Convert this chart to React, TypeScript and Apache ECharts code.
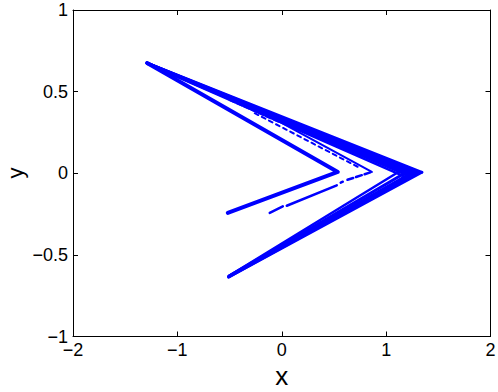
import React, { useEffect, useRef } from "react";
import * as echarts from "echarts";

// Axis ticks
const xTicks = [-2, -1, 0, 1, 2];
const yTicks = [-1, -0.5, 0, 0.5, 1];

// Outer chevron: upper band (nearly parallel strands from the top-left tip)
const upperBand1 = [[-1.29, 0.675], [1.342, 0.006]];
const upperBand2 = [[-1.29, 0.675], [1.313, 0.0]];
const upperBand3 = [[-1.29, 0.675], [1.284, -0.006]];
const upperBand4 = [[-1.29, 0.675], [1.256, -0.012]];
const upperBand5 = [[-1.285, 0.672], [1.227, -0.018]];
const upperBand6 = [[-1.28, 0.668], [1.189, -0.024]];

// Outer chevron: lower band (strands from the bottom-left tip)
const lowerBand1 = [[-0.508, -0.635], [1.342, 0.006]];
const lowerBand2 = [[-0.508, -0.635], [1.313, 0.01]];
const lowerBand3 = [[-0.508, -0.632], [1.284, 0.016]];
const lowerBand4 = [[-0.505, -0.63], [1.246, 0.026]];
const lowerBand5 = [[-0.5, -0.626], [1.2, 0.04]];

// First inner chevron
const innerChevron = [[-1.29, 0.675], [0.537, 0.008], [-0.517, -0.243]];

// Second inner chevron (sparse)
const secondUpperSparse = [[-0.498, 0.449], [-0.019, 0.314]];
const secondUpper = [[-0.019, 0.314], [0.863, 0.008]];
const secondLower1 = [[-0.115, -0.243], [0.01, -0.203]];
const secondLower2 = [[0.048, -0.199], [0.527, -0.074]];
const secondLower3 = [[0.565, -0.058], [0.585, -0.052]];
const secondLower4 = [[0.63, -0.04], [0.863, 0.008]];

// Extra sparse strand between chevrons
const extraStrand = [[-0.259, 0.368], [0.747, 0.033]];

const BLUE = "#0000ff";
const FONT = "'Liberation Sans', Arial, Helvetica, sans-serif";

const fmt = (v: number) => String(v).replace("-", "\u2212");

type Seg = { data: number[][]; width: number; type?: any };

const segments: Seg[] = [
  { data: upperBand1, width: 3 },
  { data: upperBand2, width: 3 },
  { data: upperBand3, width: 3 },
  { data: upperBand4, width: 3 },
  { data: upperBand5, width: 3 },
  { data: upperBand6, width: 2.5 },
  { data: lowerBand1, width: 3 },
  { data: lowerBand2, width: 3 },
  { data: lowerBand3, width: 3 },
  { data: lowerBand4, width: 3 },
  { data: lowerBand5, width: 2.5 },
  { data: innerChevron, width: 4 },
  { data: secondUpperSparse, width: 2.5, type: [5, 3] },
  { data: secondUpper, width: 2 },
  { data: secondLower1, width: 2.5 },
  { data: secondLower2, width: 2.5 },
  { data: secondLower3, width: 2.5 },
  { data: secondLower4, width: 2.5, type: [6, 3] },
  { data: extraStrand, width: 2, type: [4, 4] },
];

export default function App() {
  const ref = useRef<HTMLDivElement>(null);
  useEffect(() => {
    if (!ref.current) return;
    const chart = echarts.init(ref.current, undefined, { renderer: "svg" });
    const axisCommon = {
      type: "value" as const,
      splitLine: { show: false },
      axisLine: { show: true, onZero: false, lineStyle: { color: "#000", width: 1 } },
      axisTick: { show: true, inside: true, length: 5, lineStyle: { color: "#000" } },
    };
    chart.setOption({
      animation: false,
      backgroundColor: "#fff",
      grid: { left: 73, right: 7.5, top: 10, bottom: 55.5, containLabel: false, outerBoundsMode: "none" },
      graphic: [
        {
          type: "text",
          x: 15,
          y: 173,
          rotation: Math.PI / 2,
          silent: true,
          style: {
            text: "y",
            fontSize: 22,
            fontFamily: FONT,
            fill: "#000",
            align: "center",
            verticalAlign: "middle",
          },
        },
      ],
      xAxis: [
        {
          ...axisCommon,
          position: "bottom",
          min: xTicks[0],
          max: xTicks[xTicks.length - 1],
          interval: 1,
          name: "x",
          nameLocation: "middle",
          nameGap: 21,
          nameTextStyle: { fontSize: 26, color: "#000", fontFamily: FONT },
          axisLabel: { fontSize: 18, color: "#000", fontFamily: FONT, margin: 4, formatter: fmt },
        },
        {
          ...axisCommon,
          position: "top",
          min: xTicks[0],
          max: xTicks[xTicks.length - 1],
          interval: 1,
          axisLabel: { show: false },
        },
      ],
      yAxis: [
        {
          ...axisCommon,
          position: "left",
          min: yTicks[0],
          max: yTicks[yTicks.length - 1],
          interval: 0.5,
          axisLabel: { fontSize: 18, color: "#000", fontFamily: FONT, margin: 5, formatter: fmt },
        },
        {
          ...axisCommon,
          position: "right",
          min: yTicks[0],
          max: yTicks[yTicks.length - 1],
          interval: 0.5,
          axisLabel: { show: false },
        },
      ],
      series: segments.map((s) => ({
        type: "line",
        xAxisIndex: 0,
        yAxisIndex: 0,
        data: s.data,
        showSymbol: false,
        symbol: "none",
        silent: true,
        lineStyle: { color: BLUE, width: s.width, type: s.type || "solid", cap: "round", join: "round" },
      })),
    });
    return () => chart.dispose();
  }, []);
  return <div ref={ref} style={{ width: 498, height: 392, position: "absolute", left: 0, top: 0 }} />;
}
